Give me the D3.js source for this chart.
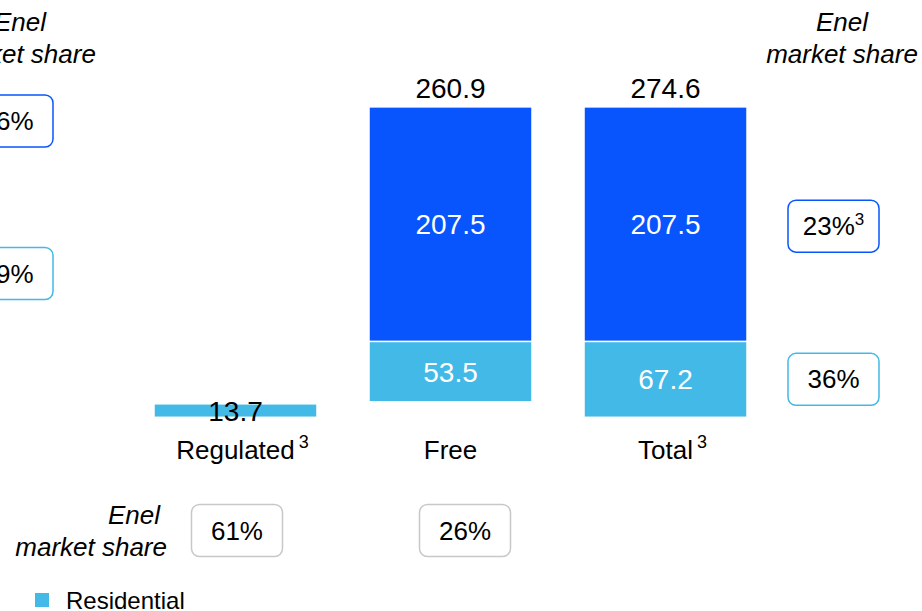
<!DOCTYPE html>
<html>
<head>
<meta charset="utf-8">
<script src="https://cdn.jsdelivr.net/npm/d3@7"></script>
<style>
  html, body { margin: 0; padding: 0; background: #fff; }
  svg { display: block; font-family: Arial, "Liberation Sans", sans-serif; }
</style>
</head>
<body>
<div id="chart"></div>
<script>
// categories and values (TWh)
var categories = ['Regulated', 'Free', 'Total'];
var catNotes = ['3', '', '3'];
var baseValues = [0, 13.7, 0];           // waterfall offset
var residential = [13.7, 53.5, 67.2];
var nonResidential = [0, 207.5, 207.5];
var totals = [13.7, 260.9, 274.6];

// Enel market share boxes
var bottomShares = ['61%', '26%'];
var bottomShift = [1.5, 14.5];
var rightShares = [{ label: '23%', note: '3', series: 'non' }, { label: '36%', note: '', series: 'res' }];
var leftShares = [{ label: '26%', series: 'non' }, { label: '29%', series: 'res' }];

var legendItems = ['Residential'];

var width = 922, height = 611;
var darkBlue = '#0855fe', lightBlue = '#42b9e6';

var svg = d3.select('#chart').append('svg')
    .attr('width', width)
    .attr('height', height);

var x = d3.scaleBand()
    .domain(categories)
    .range([154, 747])
    .paddingInner(0.242)
    .paddingOuter(0);

var y = d3.scaleLinear()
    .domain([0, d3.max(totals)])
    .range([417.3, 107]);

var rows = categories.map(function (c, i) {
    return { cat: c, base: baseValues[i], res: residential[i], non: nonResidential[i], total: totals[i], note: catNotes[i] };
});

// residential segments
svg.selectAll('rect.res').data(rows).enter().append('rect')
    .attr('class', 'res')
    .attr('x', function (d) { return x(d.cat); })
    .attr('y', function (d) { return y(d.base + d.res) + (d.non > 0 ? 0 : 2); })
    .attr('width', x.bandwidth())
    .attr('height', function (d) { return y(d.base) - y(d.base + d.res) - (d.non > 0 ? 0 : 2); })
    .attr('fill', lightBlue)
    .attr('stroke', '#fff')
    .attr('stroke-width', 1.5);

// non residential segments
svg.selectAll('rect.non').data(rows.filter(function (d) { return d.non > 0; })).enter().append('rect')
    .attr('class', 'non')
    .attr('x', function (d) { return x(d.cat); })
    .attr('y', function (d) { return y(d.base + d.res + d.non); })
    .attr('width', x.bandwidth())
    .attr('height', function (d) { return y(d.base + d.res) - y(d.base + d.res + d.non); })
    .attr('fill', darkBlue)
    .attr('stroke', '#fff')
    .attr('stroke-width', 1.5);

// labels inside bars
svg.selectAll('text.nonlab').data(rows.filter(function (d) { return d.non > 0; })).enter().append('text')
    .attr('x', function (d) { return x(d.cat) + x.bandwidth() / 2; })
    .attr('y', function (d) { return y(d.base + d.res + d.non / 2) + 10; })
    .attr('text-anchor', 'middle')
    .attr('font-size', 28)
    .attr('fill', '#fff')
    .text(function (d) { return d.non.toFixed(1); });

svg.selectAll('text.reslab').data(rows.filter(function (d) { return d.non > 0; })).enter().append('text')
    .attr('x', function (d) { return x(d.cat) + x.bandwidth() / 2; })
    .attr('y', function (d) { return y(d.base + d.res / 2) + 10; })
    .attr('text-anchor', 'middle')
    .attr('font-size', 28)
    .attr('fill', '#fff')
    .text(function (d) { return d.res.toFixed(1); });

// totals on top
svg.selectAll('text.tot').data(rows).enter().append('text')
    .attr('x', function (d) { return x(d.cat) + x.bandwidth() / 2; })
    .attr('y', function (d) { return d.non > 0 ? y(d.base + d.total) - 9 : y(d.base) + 4; })
    .attr('text-anchor', 'middle')
    .attr('font-size', 28)
    .attr('fill', '#000')
    .text(function (d) { return d.total.toFixed(1); });

// category labels: word centred under bar, footnote mark after it
svg.selectAll('text.cat').data(rows).enter().append('text')
    .attr('class', 'cat')
    .attr('x', function (d) { return x(d.cat) + x.bandwidth() / 2; })
    .attr('y', 459)
    .attr('text-anchor', 'middle')
    .attr('font-size', 26)
    .attr('fill', '#000')
    .text(function (d) { return d.cat; })
    .each(function (d) {
        if (!d.note) return;
        var w = this.getComputedTextLength();
        svg.append('text')
            .attr('x', x(d.cat) + x.bandwidth() / 2 + w / 2 + 4)
            .attr('y', 448)
            .attr('font-size', 18)
            .text(d.note);
    });

// box helper
function box(cx, cy, label, note, stroke) {
    var g = svg.append('g');
    g.append('rect')
        .attr('x', cx - 45.5).attr('y', cy - 26)
        .attr('width', 91).attr('height', 52)
        .attr('rx', 8)
        .attr('fill', '#fff')
        .attr('stroke', stroke)
        .attr('stroke-width', 1.5);
    var t = g.append('text')
        .attr('x', cx).attr('y', cy + 9)
        .attr('text-anchor', 'middle')
        .attr('font-size', 26)
        .attr('fill', '#000');
    t.append('tspan').text(label);
    if (note) t.append('tspan').attr('dy', -10).attr('font-size', 17).text(note);
}

function shareTitle(xPos, y1, y2) {
    svg.append('text').attr('x', xPos).attr('y', y1).attr('text-anchor', 'middle')
        .attr('font-size', 26).attr('font-style', 'italic').text('Enel');
    svg.append('text').attr('x', xPos).attr('y', y2).attr('text-anchor', 'middle')
        .attr('font-size', 26).attr('font-style', 'italic').text('market share');
}

// right side shares
shareTitle(842, 31, 63);
rightShares.forEach(function (s) {
    var seg = rows[2];
    var cy = s.series === 'non' ? y(seg.res + seg.non / 2) + 2 : y(seg.res / 2);
    box(833.5, cy, s.label, s.note, s.series === 'non' ? darkBlue : lightBlue);
});

// left side shares (clipped by the frame, as in the source)
shareTitle(20, 31, 63);
leftShares.forEach(function (s, i) {
    box(7.5, i === 0 ? 121 : 273.5, s.label, '', s.series === 'non' ? darkBlue : lightBlue);
});

// bottom shares
svg.append('text').attr('x', 160).attr('y', 524).attr('text-anchor', 'end')
    .attr('font-size', 26).attr('font-style', 'italic').text('Enel');
svg.append('text').attr('x', 167).attr('y', 556).attr('text-anchor', 'end')
    .attr('font-size', 26).attr('font-style', 'italic').text('market share');
bottomShares.forEach(function (s, i) {
    box(x(categories[i]) + x.bandwidth() / 2 + bottomShift[i], 530.5, s, '', '#c8c8c8');
});

// legend
var leg = svg.selectAll('g.leg').data(legendItems).enter().append('g')
    .attr('transform', function (d, i) { return 'translate(35,' + (593 + i * 30) + ')'; });
leg.append('rect').attr('width', 14).attr('height', 14).attr('fill', lightBlue);
leg.append('text').attr('x', 31).attr('y', 16).attr('font-size', 24).text(function (d) { return d; });
</script>
</body>
</html>
